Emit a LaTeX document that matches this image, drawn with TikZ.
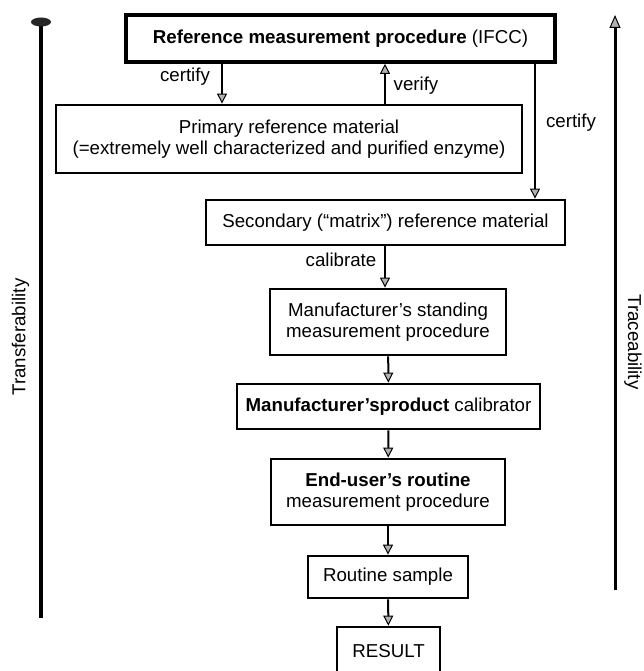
\documentclass[tikz,border=0pt]{standalone}
\usepackage{fontspec}
\setmainfont{Liberation Sans}
\usetikzlibrary{arrows.meta}

\begin{document}
\begin{tikzpicture}[x=1pt, y=-1pt,
    every node/.style={font=\fontsize{18.7}{21}\selectfont},
    box/.style={draw, line width=2.8pt, align=center, inner sep=0pt},
    flow/.style={line width=2pt, -{Triangle[width=10pt, length=10pt, line width=1pt, fill=gray!60]}}]

    \useasboundingbox (0,0) rectangle (643,671);

    % Reference measurement procedure
    \node[box, line width=3.6pt, minimum width=429pt, minimum height=47pt] (refproc) at (340.5,38.5) {\textbf{Reference measurement procedure} (IFCC)};

    % Primary reference material
    \node[box, minimum width=466pt, minimum height=68pt] (primary) at (289,139) {Primary reference material\\(=extremely well characterized and purified enzyme)};

    % Secondary reference material
    \node[box, minimum width=359pt, minimum height=45pt] (secondary) at (385.5,222.5) {Secondary (“matrix”) reference material};

    % Manufacturer's standing procedure
    \node[box, minimum width=236pt, minimum height=66pt] (standing) at (388,322) {Manufacturer's standing\\measurement procedure};

    % product calibrator
    \node[box, minimum width=303pt, minimum height=45pt] (calibrator) at (388.5,406.5) {\textbf{Manufacturer'sproduct} calibrator};

    % End-user's routine procedure
    \node[box, minimum width=234pt, minimum height=66pt] (enduser) at (388,492) {\textbf{End-user's routine}\\measurement procedure};

    % Routine sample
    \node[box, minimum width=160pt, minimum height=42pt] (sample) at (388,577) {Routine sample};

    % RESULT
    \node[box, minimum width=103pt, minimum height=48pt] (result) at (388.5,651) {RESULT};

    % certify (left)
    \coordinate (certL) at (222,0);
    \draw[flow] (refproc.south -| certL) -- (primary.north -| certL);
    \node (certifyL) at (185,77) {certify};

    % verify
    \coordinate (verif) at (385,0);
    \draw[flow] (primary.north -| verif) -- (refproc.south -| verif);
    \node (verify) at (416,86) {verify};

    % certify (right)
    \coordinate (certR) at (535,0);
    \draw[flow] (refproc.south -| certR) -- (secondary.north -| certR);
    \node (certifyR) at (571,123) {certify};

    % calibrate
    \draw[flow] (secondary.south -| verif) -- (standing.north -| verif);
    \node (calibrate) at (341,260) {calibrate};

    % down the chain
    \draw[flow] (standing) -- (calibrator);
    \draw[flow] (calibrator) -- (enduser);
    \draw[flow] (enduser) -- (sample);
    \draw[flow] (sample) -- (result);

    % Transferability
    \coordinate (transTop) at (41,22);
    \coordinate (transBot) at (41,618);
    \draw[line width=4.5pt] (transTop) -- (transBot);
    \fill[black!85] (transTop) ellipse [x radius=10, y radius=4.5];
    \node[rotate=90] (transfer) at (20.5,337) {Transferability};

    % Traceability
    \coordinate (traceBot) at (615,590);
    \coordinate (traceTop) at (615,15);
    \draw[line width=3pt, -{Triangle[width=11pt, length=13pt, line width=1pt, fill=gray!60]}] (traceBot) -- (traceTop);
    \node[rotate=-90] (trace) at (633,342) {Traceability};

\end{tikzpicture}
\end{document}
